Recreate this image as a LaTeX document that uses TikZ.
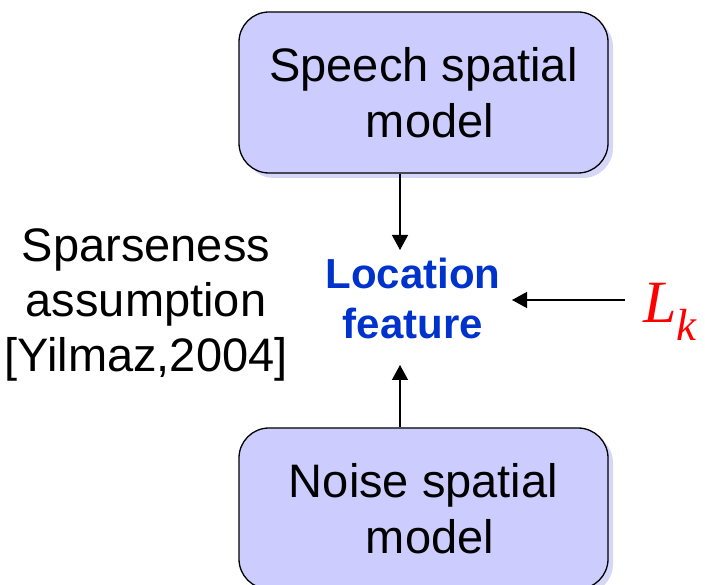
\documentclass[tikz,border=0pt]{standalone}
\usepackage{fontspec}
\setmainfont{Liberation Sans}
\newfontfamily\timesfont{Liberation Serif}
\usetikzlibrary{arrows.meta}
\definecolor{boxfill}{HTML}{CCCCFF}
\definecolor{shadowfill}{HTML}{D6D6F8}
\definecolor{locblue}{HTML}{0033CC}
\definecolor{lred}{HTML}{FF0000}
\tikzset{
  modelbox/.style={draw=black, line width=1.3pt, fill=boxfill, rounded corners=30pt,
    minimum width=369pt, minimum height=161pt, inner sep=0pt, align=center,
    font=\fontsize{47}{56}\selectfont},
  conn/.style={line width=1.3pt, -{Triangle[length=15pt,width=16pt]}},
  plaintext/.style={inner sep=0pt, align=center}
}
\begin{document}
\begin{tikzpicture}[x=1pt,y=-1pt]
\useasboundingbox (0,0) rectangle (705,585);
% shadows
\fill[shadowfill, rounded corners=30pt] (244,17) rectangle (613,178);
\fill[shadowfill, rounded corners=30pt] (244,433) rectangle (613,594);
\node[modelbox] (speech) at (423.5,92.5) {Speech spatial\\\hspace*{13pt}model};
\node[modelbox] (noise) at (423.5,508.5) {Noise spatial\\\hspace*{13pt}model};
\node[plaintext, font=\fontsize{42}{50}\selectfont\bfseries, text=locblue] (loc) at (413,298) {Location\\feature};
\node[plaintext, font=\fontsize{47}{55}\selectfont] (sparse) at (146,305) {Sparseness\\assumption\\{[Yilmaz,2004]}};
\node[plaintext, anchor=base west, text=lred] (lk) at (643,323) {\timesfont\itshape\fontsize{60}{60}\selectfont L\raisebox{-18pt}{\fontsize{45}{45}\selectfont k}};
\coordinate (topin) at (400,250);
\coordinate (botin) at (400,365);
\coordinate (rightin) at (512,300);
\coordinate (lkout) at (625,300);
\draw[conn] (speech.south -| topin) -- (topin);
\draw[conn] (noise.north -| botin) -- (botin);
\draw[conn] (lkout) -- (rightin);
\end{tikzpicture}
\end{document}
